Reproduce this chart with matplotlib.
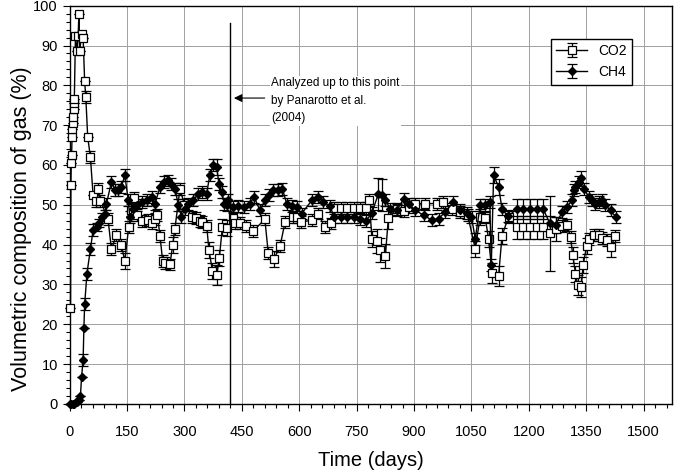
import numpy as np
import matplotlib.pyplot as plt
from matplotlib.ticker import MultipleLocator

plt.rcParams['font.family'] = ['Liberation Sans', 'DejaVu Sans']

# CO2 readings (days, %)
co2_days = [2, 3, 4, 5, 6, 7, 8, 9, 10, 11, 12, 15, 19, 22, 24, 26, 31, 35, 39, 42,
            47, 54, 61, 68, 74, 80, 100, 109, 122, 135, 144, 154, 161, 168, 175, 188,
            205, 214, 222, 229, 236, 243, 249, 262, 269, 275, 288, 300, 320, 331, 340,
            346, 358, 364, 373, 384, 391, 399, 410, 427, 432, 445, 460, 480, 510, 519,
            534, 550, 563, 584, 593, 605, 633, 650, 666, 682, 690, 708, 725, 743, 760,
            775, 783, 790, 803, 812, 825, 833, 855, 873, 886, 903, 929, 960, 977, 1000,
            1021, 1040, 1060, 1073, 1086, 1095, 1104, 1121, 1130, 1147, 1169, 1186,
            1204, 1221, 1238, 1255, 1270, 1287, 1300, 1309, 1315, 1322, 1328, 1337,
            1342, 1351, 1357, 1370, 1383, 1392, 1405, 1415, 1425]
co2 = [24, 55, 60.5, 62.5, 67, 69, 70.5, 72, 74, 75.5, 76.5, 92.5, 88.5, 92.5, 98, 88.5,
       93, 92, 81, 77, 67, 62, 52.5, 51, 54, 51, 46.5, 38.8, 42.4, 39.8, 35.9, 44.3, 48.6,
       51.6, 47.4, 45.9, 46.2, 45.5, 46.4, 47.5, 42.1, 35.8, 35.3, 35, 39.8, 44, 54, 50,
       47, 46.6, 46, 45.7, 44.6, 38.6, 33.4, 32.3, 36.6, 44.4, 44.1, 46.6, 45.4, 45.4,
       44.6, 43.4, 46.4, 37.8, 36.3, 39.7, 45.7, 47, 47, 45.7, 46.1, 47.8, 44.4, 45.3,
       49.3, 49.3, 49.3, 49.3, 49.3, 49.3, 51.1, 41.5, 40.9, 38.6, 37.1, 46.8, 49, 48.5,
       49.5, 50.3, 50.3, 50.3, 50.7, 49, 48.2, 47.5, 39, 47, 46.8, 41.3, 32.8, 32.1, 42.2,
       47, 44.3, 44.3, 44.3, 44.3, 44.3, 42.8, 44, 44.6, 44.9, 41.9, 37.3, 32.7, 29.8,
       29.4, 34.8, 39.6, 41.5, 42.4, 42.5, 41.7, 41.1, 39.3, 42.1]
co2_err = [0, 0, 0, 0, 0, 0, 0, 0, 0, 0, 0, 0, 0, 0, 0, 0, 0, 0, 0, 1.5,
           0, 1.5, 0, 1.5, 1.5, 1.5, 1.5, 1.5, 1.5, 1.5, 2, 1.5, 1.5, 1.5, 1.5, 1.5,
           1.5, 1.5, 1.5, 1.5, 1.5, 1.5, 1.5, 1.5, 2, 1.5, 1.5, 1.5, 1.5, 1.5, 1.5,
           1.5, 1.5, 2, 2, 2.5, 2, 2, 2, 1.5, 1.5, 1.5, 1.5, 1.5, 1.5, 1.5,
           2, 1.5, 1.5, 1.5, 1.5, 1.5, 1.5, 1.5, 1.5, 1.5, 1.5, 1.5, 1.5, 1.5, 1.5,
           1.5, 1.5, 2, 3, 3, 3, 3, 1.5, 1.5, 1.5, 1.5, 1.5, 1.5, 1.5, 1.5,
           1.5, 1.5, 2, 2, 1.5, 2, 2.5, 2.5, 2, 1.5, 3, 3, 3, 3, 3, 9.5, 3, 1.5, 1.5,
           1.5, 2, 2, 2.5, 2.5, 2, 2, 1.5, 1.5, 1.5, 1.5, 1.5, 2.5, 1.5]

# CH4 readings (days, %)
ch4_days = [0, 4, 8, 12, 16, 20, 24, 28, 31, 35, 37, 39, 45, 54, 61, 70, 77, 85, 92, 96,
            109, 118, 126, 135, 144, 153, 157, 166, 175, 188, 201, 214, 223, 236, 246,
            257, 266, 275, 284, 292, 301, 310, 323, 336, 345, 358, 366, 375, 384, 390,
            397, 404, 410, 414, 427, 440, 455, 470, 482, 497, 510, 521, 532, 545, 556,
            567, 580, 593, 606, 633, 650, 663, 681, 690, 708, 725, 743, 760, 775, 790,
            807, 816, 825, 838, 855, 873, 886, 903, 925, 947, 964, 982, 1003, 1021,
            1038, 1050, 1060, 1073, 1086, 1098, 1102, 1108, 1121, 1130, 1145, 1169,
            1186, 1204, 1221, 1238, 1255, 1270, 1287, 1300, 1313, 1318, 1322, 1331,
            1337, 1344, 1357, 1366, 1374, 1383, 1392, 1400, 1414, 1427]
ch4 = [0, 0, 0, 0, 0.5, 0.5, 1, 2, 6.8, 11, 19, 25, 32.7, 38.8, 43.6, 44.4, 45.4, 47,
       47.8, 50.3, 55.7, 53.8, 53.6, 54.5, 57.4, 51.1, 47, 49, 49.9, 50.7, 51.1, 52,
       50.3, 54.5, 55.7, 56.1, 55.3, 54, 49.9, 47, 49, 50.3, 51.1, 52.8, 53.2, 52.8,
       57.4, 59.9, 59.5, 55.3, 53.2, 50.3, 49.9, 51.1, 49.5, 49.8, 49.5, 50.2, 52,
       48.6, 51.1, 52.4, 53.6, 53.8, 54, 50.3, 49.6, 49.5, 47.8, 51.1, 52, 50.7, 49.6,
       47, 47, 47, 47, 46.5, 46, 48, 52.8, 52.4, 51.1, 49, 48.6, 51.5, 50.3, 48.6,
       47.4, 46.1, 46.5, 48.2, 50.7, 48.6, 47.9, 47, 41.5, 49.9, 49.9, 50.7, 34.8,
       57.4, 54.5, 49, 47.1, 48.9, 48.9, 48.9, 48.9, 48.9, 45.3, 44.9, 48.2, 49.5,
       51.1, 53.6, 54.5, 55.7, 56.6, 54, 52, 51.1, 50.3, 50.7, 51.1, 49.9, 48.6, 47]
ch4_err = [0, 0, 0, 0, 0, 0, 0, 0, 0, 1.5, 0, 1.5, 1.5, 1.5, 1.5, 1, 1, 1, 1, 1.5,
           1.5, 1.5, 1.5, 1.5, 1.5, 1.5, 1.5, 1.5, 1.5, 1.5, 1.5, 1.5, 1.5, 1.5, 1.5,
           1.5, 1.5, 1.5, 1.5, 1.5, 1.5, 1.5, 1.5, 1.5, 1.5, 1.5, 1.5, 1.5, 2, 1.5,
           1.5, 1.5, 1.5, 1.5, 1.5, 1.5, 1.5, 1.5, 1.5, 1.5, 1.5, 1.5, 1.5, 1.5, 1.5,
           1.5, 1.5, 1.5, 1.5, 1.5, 1.5, 1.5, 1.5, 1.5, 1.5, 1.5, 1.5, 1.5, 1.5, 1.5,
           4, 4, 1.5, 1.5, 1.5, 1.5, 1.5, 1.5, 1.5, 1.5, 1.5, 1.5, 1.5, 1.5,
           1.5, 1.5, 1.5, 1.5, 1.5, 1.5, 1.5, 2, 2, 1.5, 1.5, 2.5,
           2.5, 2.5, 2.5, 2.5, 2, 2, 1.5, 1.5, 1.5, 1.5, 1.5, 1.5,
           2, 1.5, 1.5, 1.5, 1.5, 1.5, 1.5, 1.5, 1.5, 1.5]

fig, ax = plt.subplots(figsize=(6.77, 4.74), dpi=100)
fig.subplots_adjust(left=0.103, right=0.993, bottom=0.148, top=0.988)

ax.errorbar(co2_days, co2, yerr=co2_err, color='black', lw=1, elinewidth=0.9,
            capsize=3.5, capthick=0.9, marker='s', ms=5.5, mfc='white', mec='black',
            mew=0.9, label='CO2', clip_on=False, zorder=3)
ax.errorbar(ch4_days, ch4, yerr=ch4_err, color='black', lw=1, elinewidth=0.9,
            capsize=3.5, capthick=0.9, marker='D', ms=4.5, mfc='black', mec='black',
            label='CH4', clip_on=False, zorder=3)

# end of the earlier analysed period
ax.plot([420, 420], [0, 95.7], color='black', lw=1, zorder=4)
ax.annotate('', xy=(422, 76.8), xytext=(517, 76.8),
            arrowprops=dict(arrowstyle='-|>', color='black', lw=0.8,
                            mutation_scale=12))
ax.text(526, 82, 'Analyzed up to this point\nby Panarotto et al.\n(2004)',
        fontsize=8.5, va='top', ha='left', linespacing=1.6,
        bbox=dict(facecolor='white', edgecolor='none', pad=1))

ax.set_xlim(0, 1575)
ax.set_ylim(0, 100)
ax.xaxis.set_major_locator(MultipleLocator(150))
ax.xaxis.set_minor_locator(MultipleLocator(30))
ax.yaxis.set_major_locator(MultipleLocator(10))
ax.yaxis.set_minor_locator(MultipleLocator(2))
ax.tick_params(which='major', length=5, width=0.8, labelsize=10.5)
ax.tick_params(axis='x', which='major', pad=10)
ax.tick_params(which='minor', length=3, width=0.8)
ax.grid(True, which='major', color='#a0a0a0', lw=0.7)
ax.set_axisbelow(True)
for s in ax.spines.values():
    s.set_linewidth(1)

ax.set_xlabel('Time (days)', fontsize=14.5, labelpad=9)
ax.set_ylabel('Volumetric composition of gas (%)', fontsize=15.5)
ax.yaxis.set_label_coords(-0.063, 0.44)

leg = ax.legend(loc='upper right', bbox_to_anchor=(0.945, 0.935), fontsize=10,
                frameon=True, fancybox=False, edgecolor='black', framealpha=1,
                handlelength=2.2, borderpad=0.4, labelspacing=0.5)
leg.get_frame().set_linewidth(1)

plt.savefig('out.png', dpi=100)
